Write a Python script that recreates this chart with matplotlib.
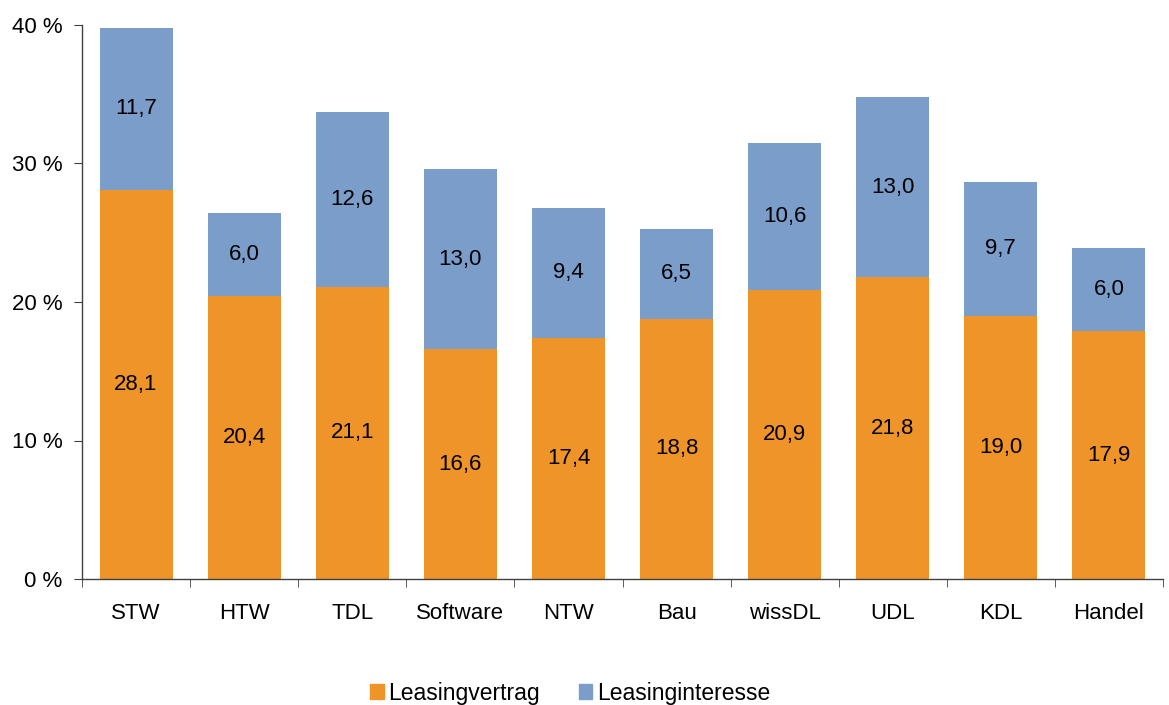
import matplotlib
matplotlib.use("Agg")
import matplotlib.pyplot as plt
from matplotlib.patches import Patch
from matplotlib.ticker import FixedLocator

plt.rcParams['font.family'] = ['Liberation Sans', 'DejaVu Sans']

categories = ["STW", "HTW", "TDL", "Software", "NTW", "Bau", "wissDL", "UDL", "KDL", "Handel"]
vertrag = [28.1, 20.4, 21.1, 16.6, 17.4, 18.8, 20.9, 21.8, 19.0, 17.9]
interesse = [11.7, 6.0, 12.6, 13.0, 9.4, 6.5, 10.6, 13.0, 9.7, 6.0]
yticks = [0, 10, 20, 30, 40]

c_orange = "#EF9428"
c_blue = "#7B9DCA"

fig = plt.figure(figsize=(11.69, 7.05), dpi=100)
ax = fig.add_axes([82/1169, 1-579/705, (1163-82)/1169, (579-25)/705])

x = list(range(len(categories)))
w = 0.675
ax.bar(x, vertrag, width=w, color=c_orange, zorder=2)
ax.bar(x, interesse, width=w, bottom=vertrag, color=c_blue, zorder=2)

fs = 16
for i in x:
    ax.text(i, vertrag[i] / 2, f"{vertrag[i]:.1f}".replace(".", ","), ha="center", va="center", fontsize=fs)
    ax.text(i, vertrag[i] + interesse[i] / 2, f"{interesse[i]:.1f}".replace(".", ","), ha="center", va="center", fontsize=fs)

ax.set_xlim(-0.5, len(categories) - 0.5)
ax.set_ylim(0, 40)
ax.set_yticks(yticks)
ax.set_yticklabels([f"{t} %" for t in yticks], fontsize=fs)
ax.set_xticks(x)
ax.set_xticklabels(categories, fontsize=fs)
ax.tick_params(axis="x", which="major", length=0, pad=17)
ax.xaxis.set_minor_locator(FixedLocator([i - 0.5 for i in range(len(categories) + 1)]))
ax.tick_params(axis="x", which="minor", length=6, color="#404040", direction="out")
ax.tick_params(axis="y", length=6, color="#404040", direction="out", pad=8)

for s in ["top", "right"]:
    ax.spines[s].set_visible(False)
for s in ["left", "bottom"]:
    ax.spines[s].set_color("#404040")
    ax.spines[s].set_linewidth(1.0)

handles = [Patch(color=c_orange, label="Leasingvertrag"), Patch(color=c_blue, label="Leasinginteresse")]
fig.legend(handles=handles, loc="center", bbox_to_anchor=(0.4876, 0.017), ncol=2, frameon=False,
           fontsize=16.5, handlelength=0.6, handleheight=0.6, handletextpad=0.2, columnspacing=1.7)

fig.savefig("out.png", dpi=100)
